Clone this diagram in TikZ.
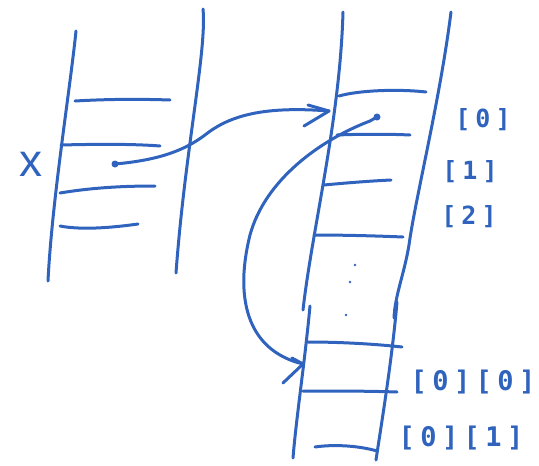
\documentclass[tikz,border=0pt]{standalone}
\usepackage{fontspec}
\newfontfamily\hand[LetterSpace=20]{DejaVu Sans Mono}
\newfontfamily\handx{Liberation Sans}
\definecolor{ink}{RGB}{47,99,189}
\begin{document}
\begin{tikzpicture}[x=1pt,y=-1pt,
  pen/.style={draw=ink,line width=3pt,line cap=round,line join=round},
  blob/.style={circle,fill=ink,inner sep=0pt,minimum size=#1},
  lbl/.style={text=ink,inner sep=0pt,font=\hand\bfseries\fontsize{25}{25}\selectfont},
  lblb/.style={text=ink,inner sep=0pt,font=\hand\bfseries\fontsize{27}{27}\selectfont}]
\useasboundingbox (0,0) rectangle (539,466);

% ---- left stack ----
\draw[pen] (76,31) .. controls (70,90) and (52,200) .. (48,281);
\draw[pen] (203,9) .. controls (207,50) and (185,150) .. (176,273);
\draw[pen] (75,101) .. controls (110,99) and (140,99) .. (170,100);
\draw[pen] (61,145) .. controls (100,144) and (135,144) .. (160,146);
\draw[pen] (60,193) .. controls (90,188) and (120,186) .. (155,186);
\draw[pen] (60,226) .. controls (80,230) and (110,228) .. (138,224);
\node[text=ink,font=\handx\fontsize{46}{46}\selectfont,inner sep=0pt] (xlbl) at (31,164) {x};

% ---- right stack ----
\draw[pen] (343,12) .. controls (340,120) and (312,230) .. (303,310);
\draw[pen] (310,306) .. controls (305,360) and (296,420) .. (293,458);
\draw[pen] (451,12) .. controls (440,100) and (415,200) .. (409,245) .. controls (404,275) and (395,295) .. (394,318);
\draw[pen] (397,302) .. controls (392,360) and (382,420) .. (376,460);
\draw[pen] (339,96) .. controls (360,90) and (400,89) .. (426,92);
\draw[pen] (337,135) .. controls (360,134) and (390,134) .. (410,135);
\draw[pen] (324,185) .. controls (345,183) and (370,181) .. (391,180);
\draw[pen] (314,235) .. controls (345,235) and (380,236) .. (403,237);
\draw[pen] (308,342) .. controls (340,342) and (375,344) .. (402,347);
\draw[pen] (303,391) .. controls (335,391) and (370,391) .. (397,392);
\draw[pen] (315,447) .. controls (335,444) and (360,446) .. (377,451);
\node[blob=2.8pt] (d1) at (355,265) {};
\node[blob=2.8pt] (d2) at (350,282) {};
\node[blob=2.8pt] (d3) at (346,315) {};

% ---- pointer from x ----
\node[blob=7pt] (px) at (115,164) {};
\coordinate (t1) at (329,111);
\coordinate (t1a) at (308,105);
\coordinate (t1b) at (304,126);
\draw[pen] (px.center) .. controls (160,160) and (185,150) .. (205,135) .. controls (230,115) and (265,106) .. (t1);
\draw[pen] (t1a) -- (t1) -- (t1b);

% ---- pointer from [0] ----
\node[blob=7pt] (p0) at (377,117) {};
\coordinate (t2) at (303,364);
\coordinate (t2a) at (292,358);
\coordinate (t2b) at (283,383);
\draw[pen] (p0.center) -- (370,121) .. controls (320,140) and (265,180) .. (250,235) .. controls (235,295) and (245,350) .. (t2);
\draw[pen] (t2a) -- (t2) -- (t2b);

% ---- labels ----
\node[lbl] (i0) at (483,120) {[0]};
\node[lbl] (i1) at (470,172) {[1]};
\node[lbl] (i2) at (469,217) {[2]};
\node[lblb] (i00) at (473,382) {[0][0]};
\node[lblb] (i01) at (461,438) {[0][1]};
\end{tikzpicture}
\end{document}
